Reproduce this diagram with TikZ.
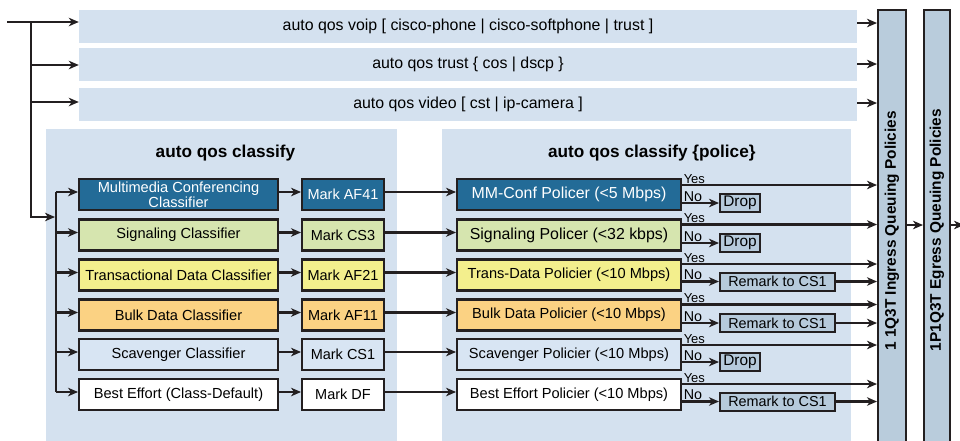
\documentclass[tikz,border=0pt]{standalone}
\usepackage{fontspec}
\setmainfont{Liberation Sans}
\usetikzlibrary{arrows.meta,calc}

\definecolor{panel}{HTML}{D4E1EF}
\definecolor{mmblue}{HTML}{236B97}
\definecolor{siggreen}{HTML}{D6E5AF}
\definecolor{trsyellow}{HTML}{F3EF8D}
\definecolor{bulkorange}{HTML}{FBD283}
\definecolor{scavblue}{HTML}{D8E5F3}
\definecolor{actblue}{HTML}{B6CADB}
\definecolor{qbarcol}{HTML}{B9CCDC}
\definecolor{ink}{HTML}{231F20}

\newcommand\myfs[1]{\fontsize{#1}{#1}\selectfont}

\begin{document}
\begin{tikzpicture}[x=1pt,y=-1pt,
  arr/.style={draw=ink,line width=2.1pt,-{Stealth[length=10pt,width=8.5pt,inset=3pt]}},
  ln/.style={draw=ink,line width=2.1pt},
  cmd/.style={fill=panel,minimum width=778pt,minimum height=33pt,inner sep=0pt,font=\myfs{15.9}},
  panelbox/.style={fill=panel,inner sep=0pt},
  ttl/.style={font=\bfseries\myfs{17.2},inner sep=0pt},
  box/.style={draw=ink,line width=2.4pt,inner sep=0pt,minimum height=31.2pt,align=center},
  cls/.style={box,minimum width=198.5pt,font=\myfs{14.6}},
  mk/.style={box,minimum width=81.5pt,font=\myfs{14.5}},
  pol/.style={box,minimum width=223.5pt,font=\myfs{14.6}},
  act/.style={draw=ink,line width=2pt,fill=actblue,inner sep=0pt,minimum height=18pt},
  dropbox/.style={act,minimum width=40pt,font=\myfs{15.4}},
  rmk/.style={act,minimum width=115pt,font=\myfs{14.4}},
  lbl/.style={inner sep=0.8pt,anchor=south west},
  nolbl/.style={lbl,font=\myfs{14.3}},
  yeslbl/.style={lbl,font=\myfs{13}},
  qbar/.style={draw=ink,line width=2.4pt,fill=qbarcol,inner sep=0pt,minimum height=440pt},
  qtxt/.style={font=\bfseries\myfs{15.4},rotate=90,inner sep=0pt}
]
\useasboundingbox (0,0) rectangle (960,440);
\clip (0,0) rectangle (960,440);

% top command bars
\node[cmd] (v1) at (468,26.5) {auto qos voip [ cisco-phone | cisco-softphone | trust ]};
\node[cmd] (v2) at (468,64.5) {auto qos trust \{ cos | dscp \}};
\node[cmd] (v3) at (468,104.5) {auto qos video [ cst | ip-camera ]};

% panels
\node[panelbox,minimum width=351pt,minimum height=316pt] (lp) at (221.5,287) {};
\node[panelbox,minimum width=409pt,minimum height=316pt] (rp) at (646.5,287) {};
\node[ttl] (lt) at (225.5,153) {auto qos classify};
\node[ttl] (rt) at (651.8,153) {auto qos classify \{police\}};

% queuing bars
\node[qbar,minimum width=27.6pt] (ing) at (892,230) {};
\node[qtxt] (ingt) at (892,231) {1 1Q3T Ingress Queuing Policies};
\node[qbar,minimum width=25.6pt] (eg) at (937,230) {};
\node[qtxt] (egt) at (937,230) {1P1Q3T Egress Queuing Policies};

% classifiers
\node[cls,fill=mmblue,text=white,font=\fontsize{14.6}{12.8}\selectfont] (c1) at (178.5,194.5) {Multimedia Conferencing\\Classifier};
\node[cls,fill=siggreen] (c2) at (178.5,235) {Signaling Classifier};
\node[cls,fill=trsyellow] (c3) at (178.5,275) {Transactional Data Classifier};
\node[cls,fill=bulkorange] (c4) at (178.5,315) {Bulk Data Classifier};
\node[cls,fill=scavblue] (c5) at (178.5,354.5) {Scavenger Classifier};
\node[cls,fill=white] (c6) at (178.5,394.5) {Best Effort (Class-Default)};

% markers
\node[mk,fill=mmblue,text=white] (m1) at (343,194.5) {Mark AF41};
\node[mk,fill=siggreen] (m2) at (343,235) {Mark CS3};
\node[mk,fill=trsyellow] (m3) at (343,275) {Mark AF21};
\node[mk,fill=bulkorange] (m4) at (343,315) {Mark AF11};
\node[mk,fill=scavblue] (m5) at (343,354.5) {Mark CS1};
\node[mk,fill=white] (m6) at (343,394.5) {Mark DF};

% policers
\node[pol,fill=mmblue,text=white,font=\myfs{15.9}] (p1) at (569,194.5) {MM-Conf Policer (<5 Mbps)};
\node[pol,fill=siggreen,font=\myfs{15.9}] (p2) at (569,235) {Signaling Policer (<32 kbps)};
\node[pol,fill=trsyellow] (p3) at (569,275) {Trans-Data Policier (<10 Mbps)};
\node[pol,fill=bulkorange] (p4) at (569,315) {Bulk Data Policier (<10 Mbps)};
\node[pol,fill=scavblue] (p5) at (569,354.5) {Scavenger Policier (<10 Mbps)};
\node[pol,fill=white] (p6) at (569,394.5) {Best Effort Policier (<10 Mbps)};

% actions
\node[dropbox] (a1) at (740,203) {Drop};
\node[dropbox] (a2) at (740,243) {Drop};
\node[rmk] (a3) at (777.5,281.5) {Remark to CS1};
\node[rmk] (a4) at (777.5,323) {Remark to CS1};
\node[dropbox] (a5) at (740,362) {Drop};
\node[rmk] (a6) at (777.5,401.5) {Remark to CS1};

% input tree
\coordinate (in) at (7,22);
\coordinate (j1) at (31,22);
\coordinate (bt) at (55,217);
\coordinate (bustop) at (56,192);
\coordinate (busbot) at (56,392);
\draw[arr] (in) -- (v1.west |- in);
\draw[arr] (j1) |- (v2.west |- 0,65);
\draw[arr] (j1) |- (v3.west |- 0,102);
\draw[arr] (j1) |- (bt);
\draw[ln] (bustop) -- (busbot);

% top bars to ingress
\draw[arr] (v1.east |- 0,23) -- (ing.west |- 0,23);
\draw[arr] (v2.east |- 0,64) -- (ing.west |- 0,64);
\draw[arr] (v3.east |- 0,103) -- (ing.west |- 0,103);

% per-row connectors
\foreach \i in {1,...,6}{
  \draw[arr] (bustop |- {$(c\i.west)+(0,-2.5)$}) -- ($(c\i.west)+(0,-2.5)$);
  \draw[arr] ($(c\i.east)+(0,-2.5)$) -- ($(m\i.west)+(0,-2.5)$);
  \draw[arr] ($(m\i.east)+(0,-2.5)$) -- ($(p\i.west)+(0,-2.5)$);
  \draw[arr] (p\i.east |- a\i.west) -- (a\i.west);
  \node[nolbl] (no\i) at ($(p\i.east |- a\i.west)+(0.8,-0.5)$) {No};
}
\foreach \i/\y in {1/185,2/224.5,3/264,4/304.5,5/345,6/384}{
  \coordinate (y\i) at (700,\y);
  \draw[arr] (p\i.east |- y\i) -- (ing.west |- y\i);
  \node[yeslbl] (yes\i) at ($(p\i.east |- y\i)+(0.8,-0.5)$) {Yes};
}
\foreach \i in {3,4,6}{
  \draw[arr] (a\i.east) -- (ing.west |- a\i.east);
}

% queue chain
\coordinate (out) at (964,225);
\draw[arr] (ing.east |- out) -- (eg.west |- out);
\draw[arr] (eg.east |- out) -- (out);
\end{tikzpicture}
\end{document}
